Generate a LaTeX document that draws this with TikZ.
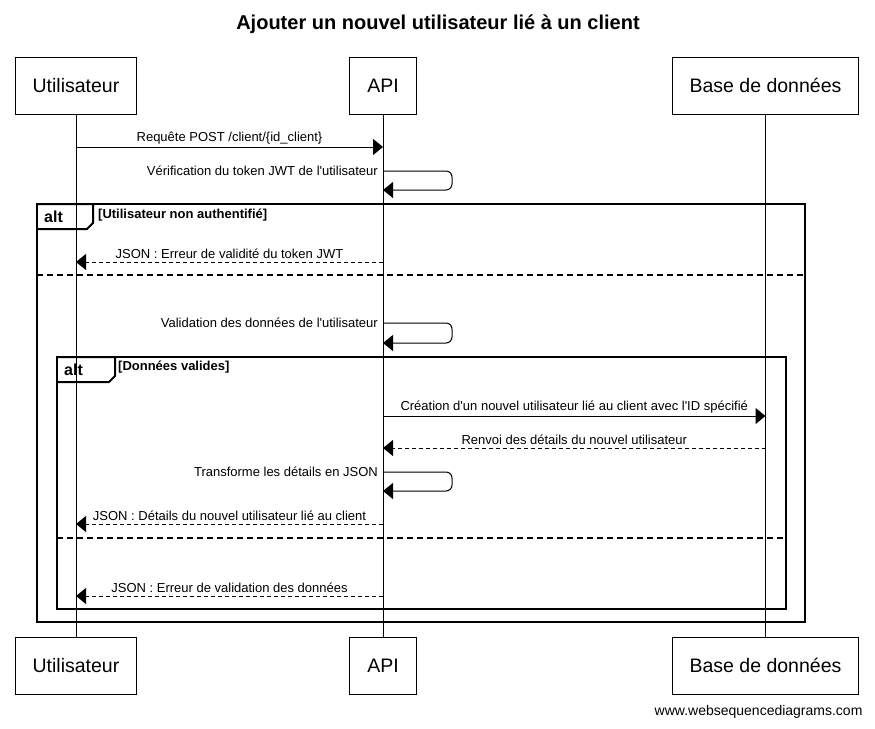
\documentclass[tikz,border=0pt]{standalone}
\usepackage{fontspec}
\setmainfont[Ligatures=TeXOff]{Liberation Sans}
\usetikzlibrary{arrows.meta,positioning}

\begin{document}
\begin{tikzpicture}[x=1pt, y=-1pt, >={Triangle[length=10pt,width=16pt]},
  actor/.style={rectangle, draw, line width=1pt, fill=white, minimum height=57pt,
    inner xsep=17.5pt, inner ysep=0pt, font=\fontsize{19.5}{22}\selectfont},
  life/.style={line width=1pt},
  msg/.style={->, line width=1pt},
  reply/.style={msg, dash pattern=on 4pt off 3pt},
  msgtext/.style={above, inner sep=2.5pt, font=\fontsize{13}{15}\selectfont},
  selftext/.style={anchor=east, inner sep=5pt, font=\fontsize{13}{15}\selectfont},
  frame/.style={line width=2pt, line join=miter},
  sepline/.style={line width=2pt, dash pattern=on 6pt off 4pt},
  alttext/.style={anchor=west, inner sep=0pt, font=\fontsize{16}{18}\selectfont\bfseries},
  condtext/.style={anchor=west, inner sep=0pt, font=\fontsize{13}{15}\selectfont\bfseries}]

\useasboundingbox (0,0) rectangle (875,728);

%Title
\node (title) at (438,24) {\fontsize{20}{22}\selectfont\bfseries Ajouter un nouvel utilisateur lié à un client};

%message rows
\coordinate (r1) at (0,147);
\coordinate (r2) at (0,171);
\coordinate (r2b) at (0,190);
\coordinate (r3) at (0,262);
\coordinate (r4) at (0,323);
\coordinate (r4b) at (0,343);
\coordinate (r5) at (0,416);
\coordinate (r6) at (0,448);
\coordinate (r7) at (0,472);
\coordinate (r7b) at (0,491);
\coordinate (r8) at (0,524);
\coordinate (r9) at (0,596);

%alt frame, outer
\draw[frame] (37,204) rectangle (805,622);
\draw[frame] (37,204) -- (93,204) -- (93,223) -- (87,229) -- (37,229);
\node[alttext] (alt1) at (44,217) {alt};
\node[condtext] (cond1) at (98,215) {[Utilisateur non authentifié]};
\draw[sepline] (37,275) -- (805,275);

%alt frame, inner
\draw[frame] (57,357) rectangle (786,609);
\draw[frame] (57,357) -- (115,357) -- (115,376) -- (109,382) -- (57,382);
\node[alttext] (alt2) at (64,370) {alt};
\node[condtext] (cond2) at (118,367) {[Données valides]};
\draw[sepline] (57,538) -- (786,538);

%participants, top
\node[actor] (usr) at (76,85.5) {Utilisateur};
\node[actor] (api) at (383,85.5) {API};
\node[actor] (bdd) at (765.5,85.5) {Base de données};

%participants, bottom
\node[actor, below=522pt of usr] (usrB) {Utilisateur};
\node[actor, below=522pt of api] (apiB) {API};
\node[actor, below=522pt of bdd] (bddB) {Base de données};

%lifelines
\draw[life] (usr) -- (usrB);
\draw[life] (api) -- (apiB);
\draw[life] (bdd) -- (bddB);

%Paths
%user to API
\draw[msg] (usr |- r1) -- (api |- r1) node[midway, msgtext] {Requête POST /client/\{id\_client\}};
%token check
\draw[msg, rounded corners=6pt] (api |- r2) -- ++(69,0) |- (api |- r2b);
\node[selftext] (t2) at (api |- r2) {Vérification du token JWT de l'utilisateur};
%token error
\draw[reply] (api |- r3) -- (usr |- r3) node[midway, msgtext] {JSON : Erreur de validité du token JWT};
%data check
\draw[msg, rounded corners=6pt] (api |- r4) -- ++(69,0) |- (api |- r4b);
\node[selftext] (t4) at (api |- r4) {Validation des données de l'utilisateur};
%API to database
\draw[msg] (api |- r5) -- (bdd |- r5) node[midway, msgtext] {Création d'un nouvel utilisateur lié au client avec l'ID spécifié};
%database to API
\draw[reply] (bdd |- r6) -- (api |- r6) node[midway, msgtext] {Renvoi des détails du nouvel utilisateur};
%to JSON
\draw[msg, rounded corners=6pt] (api |- r7) -- ++(69,0) |- (api |- r7b);
\node[selftext] (t7) at (api |- r7) {Transforme les détails en JSON};
%JSON to user
\draw[reply] (api |- r8) -- (usr |- r8) node[midway, msgtext] {JSON : Détails du nouvel utilisateur lié au client};
%validation error
\draw[reply] (api |- r9) -- (usr |- r9) node[midway, msgtext] {JSON : Erreur de validation des données};

%watermark
\node[anchor=east, font=\fontsize{14}{16}\selectfont] (wsd) at (866,712) {www.websequencediagrams.com};

\end{tikzpicture}
\end{document}
